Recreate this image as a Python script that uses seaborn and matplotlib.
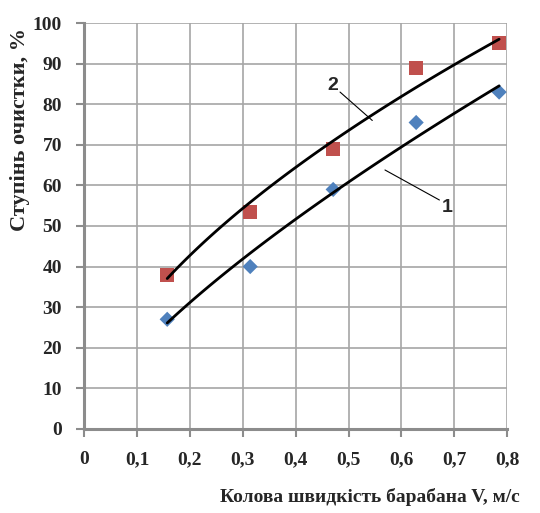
import numpy as np
import pandas as pd
import matplotlib
matplotlib.use('Agg')
import matplotlib.pyplot as plt
import seaborn as sns

# drum speed, m/s
speed = [0.157, 0.314, 0.471, 0.628, 0.785]
# cleaning degree, %
series_1 = [27.0, 40.0, 59.0, 75.5, 83.0]
series_2 = [38.0, 53.5, 69.0, 89.0, 95.0]

x_ticks = [0, 0.1, 0.2, 0.3, 0.4, 0.5, 0.6, 0.7, 0.8]
y_ticks = list(range(0, 101, 10))

sns.set_style('white')
plt.rcParams['font.family'] = ['Liberation Serif', 'DejaVu Serif']

df = pd.DataFrame({'V': speed, 's1': series_1, 's2': series_2})

# power trend lines, fitted in log space like Excel does
xs = np.linspace(min(speed), max(speed), 100)
trend = {}
for col in ['s1', 's2']:
    b, ln_a = np.polyfit(np.log(df['V']), np.log(df[col]), 1)
    trend[col] = np.exp(ln_a) * xs ** b
trend_df = pd.DataFrame({'V': xs, 't1': trend['s1'], 't2': trend['s2']})

fig = plt.figure(figsize=(5.4, 5.13), dpi=100)
ax = fig.add_axes([0.156, 0.164, 0.783, 0.791])

sns.lineplot(data=trend_df, x='V', y='t1', ax=ax, color='black', lw=2, zorder=3)
sns.lineplot(data=trend_df, x='V', y='t2', ax=ax, color='black', lw=2, zorder=3)
sns.scatterplot(data=df, x='V', y='s1', ax=ax, marker='D', s=60,
                color='#4F81BD', edgecolor='none', zorder=2)
sns.scatterplot(data=df, x='V', y='s2', ax=ax, marker='s', s=105,
                color='#C0504D', edgecolor='none', zorder=2)

ax.set_xlim(0, 0.8)
ax.set_ylim(0, 100)
ax.set_xticks(x_ticks)
ax.set_yticks(y_ticks)
ax.set_xticklabels([('%g' % t).replace('.', ',') for t in x_ticks],
                   fontsize=14, fontweight='bold')
ax.set_yticklabels([str(t) for t in y_ticks], fontsize=14, fontweight='bold')
ax.tick_params(axis='both', direction='out', length=6, width=1.5,
               color='#8c8c8c', pad=10, bottom=True, left=True)
ax.grid(True, color='#a6a6a6', lw=1.2)
ax.set_axisbelow(True)
for side in ['top', 'right']:
    ax.spines[side].set_visible(False)
for side in ['left', 'bottom']:
    ax.spines[side].set_color('#8c8c8c')
    ax.spines[side].set_linewidth(2.2)

ax.set_xlabel('')
ax.set_ylabel('')
fig.text(0.963, 0.031, 'Колова швидкість барабана V, м/с', fontsize=14,
         fontweight='bold', ha='right', va='center')
fig.text(0.037, 0.747, 'Ступінь очистки, %', fontsize=16, fontweight='bold',
         rotation=90, ha='center', va='center')

# curve labels with leader lines
ax.plot([0.484, 0.545], [83.0, 76.0], color='black', lw=0.8)
ax.text(0.471, 84.5, '2', fontsize=14, fontweight='bold', family='Liberation Sans',
        ha='center', va='center')
ax.plot([0.569, 0.672], [63.8, 56.4], color='black', lw=0.8)
ax.text(0.687, 54.5, '1', fontsize=14, fontweight='bold', family='Liberation Sans',
        ha='center', va='center')

fig.savefig('out.png', dpi=100)
